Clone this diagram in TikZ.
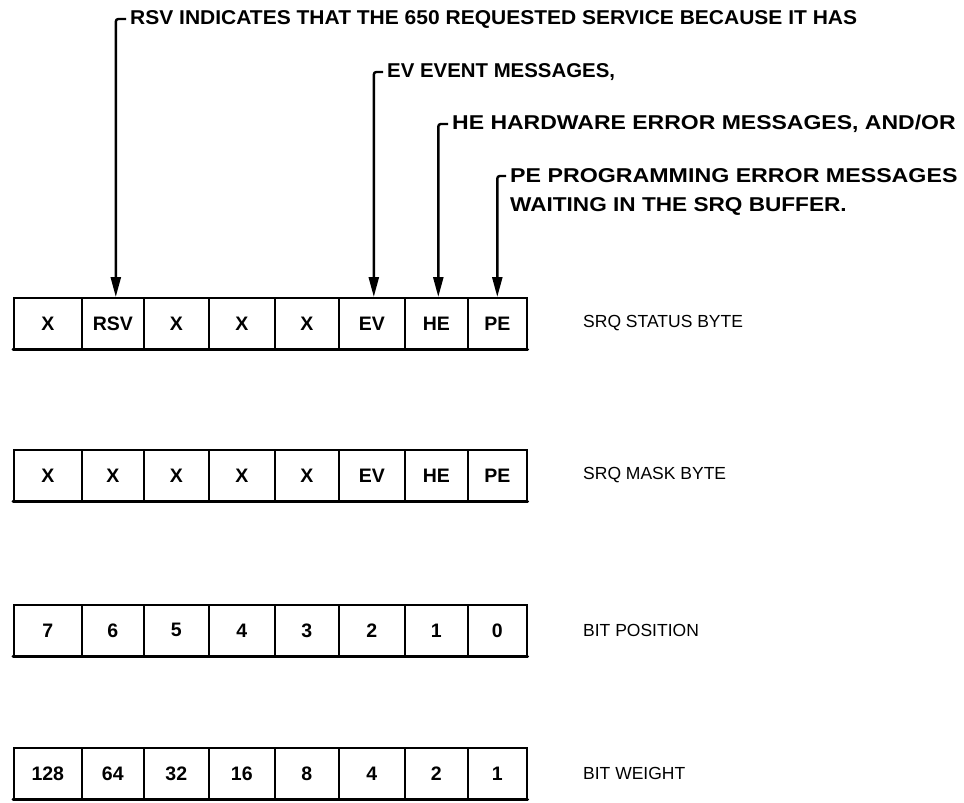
\documentclass[tikz,border=0pt]{standalone}
\usepackage{fontspec}
\usepackage{graphicx}
\setmainfont{Liberation Sans}
\usetikzlibrary{arrows.meta}
\begin{document}
\begin{tikzpicture}[x=1pt,y=-1pt,
  cell/.style={draw=black,line width=1.6pt,minimum height=51pt,inner sep=0pt,anchor=north west,font=\fontsize{19.5}{20}\selectfont\bfseries},
  ann/.style={font=\fontsize{20}{20}\selectfont\bfseries,anchor=west,inner sep=0pt},
  lbl/.style={font=\fontsize{17.5}{18}\selectfont,anchor=west,inner sep=0pt},
  hook/.style={line width=2.4pt,rounded corners=2.5pt,-{Triangle[length=20pt,width=10pt]}},
  base/.style={line width=3pt,line cap=round}
]
\useasboundingbox (0,0) rectangle (964,803);
% rows of cells
\foreach \r/\y/\labs in {s/297/{X,RSV,X,X,X,EV,HE,PE},m/449/{X,X,X,X,X,EV,HE,PE},p/604/{7,6,5,4,3,2,1,0},w/747/{128,64,32,16,8,4,2,1}}{
  \foreach \t [count=\i] in \labs {
    \pgfmathsetmacro\xa{{13,81,143,208,274,338,404,467,526}[\i-1]}
    \pgfmathsetmacro\xb{{13,81,143,208,274,338,404,467,526}[\i]}
    \pgfmathsetmacro\w{\xb-\xa}
    \node[cell,minimum width=\w pt] (\r\i) at (\xa,\y) {\t};
  }
  \draw[base] (\r1.south west) -- (\r8.south east);
}
% right labels
\node[lbl] (ls) at (583,323) {SRQ STATUS BYTE};
\node[lbl] (lm) at (583,475) {SRQ MASK BYTE};
\node[lbl] (lp) at (583,630) {BIT POSITION};
\node[lbl] (lw) at (583,773) {BIT WEIGHT};
% annotations
\node[ann] (trsv) at (130,19) {\scalebox{1.05}[1]{RSV INDICATES THAT THE 650 REQUESTED SERVICE BECAUSE IT HAS}};
\node[ann] (tev) at (387,72) {\scalebox{1.02}[1]{EV EVENT MESSAGES,}};
\node[ann] (the) at (452,124) {\scalebox{1.15}[1]{HE HARDWARE ERROR MESSAGES, AND/OR}};
\node[ann] (tpe) at (510,176) {\scalebox{1.16}[1]{PE PROGRAMMING ERROR MESSAGES}};
\node[ann] (twait) at (510,206) {\scalebox{1.13}[1]{WAITING IN THE SRQ BUFFER.}};
\draw[hook] ([xshift=-4pt]trsv.west) -| ([xshift=3pt]s2.north);
\draw[hook] ([xshift=-4pt]tev.west) -| ([xshift=2pt]s6.north);
\draw[hook] ([xshift=-4pt]the.west) -| ([xshift=2pt]s7.north);
\draw[hook] ([xshift=-4pt]tpe.west) -| (s8.north);
\end{tikzpicture}
\end{document}
